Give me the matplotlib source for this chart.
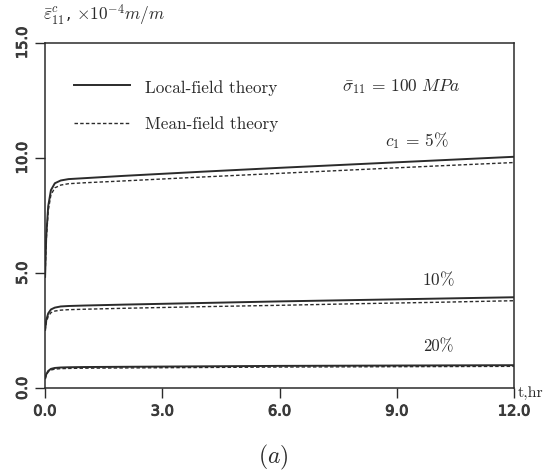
import numpy as np
import matplotlib
matplotlib.use("Agg")
import matplotlib.pyplot as plt
import matplotlib.patheffects as pe

plt.rcParams['mathtext.fontset'] = 'cm'
plt.rcParams['axes.unicode_minus'] = False

# creep strain (x 1e-4 m/m) vs time (hr), three fibre volume fractions
t_hr = [0, 0.03, 0.08, 0.15, 0.25, 0.4, 0.6, 1, 2, 4, 6, 8, 10, 12]

local_5 = [4.8, 6.6, 7.9, 8.6, 8.9, 9.02, 9.08, 9.12, 9.22, 9.4, 9.57, 9.73, 9.89, 10.05]
mean_5 = [4.8, 6.4, 7.7, 8.4, 8.7, 8.82, 8.88, 8.92, 9.0, 9.17, 9.33, 9.49, 9.65, 9.8]

local_10 = [2.5, 2.95, 3.25, 3.42, 3.5, 3.55, 3.57, 3.59, 3.63, 3.7, 3.77, 3.83, 3.89, 3.95]
mean_10 = [2.5, 2.85, 3.12, 3.28, 3.35, 3.39, 3.41, 3.43, 3.47, 3.54, 3.6, 3.67, 3.73, 3.8]

local_20 = [0.4, 0.6, 0.75, 0.84, 0.88, 0.9, 0.91, 0.92, 0.93, 0.95, 0.97, 0.98, 0.99, 1.0]
mean_20 = [0.4, 0.57, 0.71, 0.79, 0.83, 0.85, 0.86, 0.87, 0.88, 0.9, 0.92, 0.93, 0.94, 0.95]

x_ticks = [0, 3, 6, 9, 12]
y_ticks = [0, 5, 10, 15]

ink = '#2b2b2b'
serif = ['cmr10', 'DejaVu Serif']
dash = (0, (2.5, 1.6))

fig = plt.figure(figsize=(5.43, 4.70), dpi=100)
ax = fig.add_axes([0.083, 0.174, 0.864, 0.735])

for loc, mf in [(local_5, mean_5), (local_10, mean_10), (local_20, mean_20)]:
    ax.plot(t_hr, loc, color=ink, lw=1.4, solid_capstyle='butt')
    ax.plot(t_hr, mf, color=ink, lw=1.0, linestyle=dash)

ax.set_xlim(0, 12)
ax.set_ylim(0, 15)
ax.set_xticks(x_ticks)
ax.set_xticklabels(['%.1f' % v for v in x_ticks])
ax.set_yticks(y_ticks)
ax.set_yticklabels(['%.1f' % v for v in y_ticks], rotation=90, va='center')
ax.tick_params(direction='out', length=7, width=1.0, color=ink,
               labelsize=10.5, labelcolor='#3a3a3a', pad=4)
# slightly heavier strokes on tick labels
thick = [pe.withStroke(linewidth=0.7, foreground='#3a3a3a')]
for lab in ax.get_xticklabels() + ax.get_yticklabels():
    lab.set_path_effects(thick)
for s in ax.spines.values():
    s.set_color(ink)
    s.set_linewidth(1.1)

# hand-drawn legend
ax.plot([0.75, 2.16], [13.15, 13.15], color=ink, lw=1.4)
ax.plot([0.75, 2.16], [11.5, 11.5], color=ink, lw=1.0, linestyle=dash)
ax.text(2.56, 13.05, 'Local-field theory', family=serif, fontsize=12.4,
        color=ink, va='center')
ax.text(2.56, 11.45, 'Mean-field theory', family=serif, fontsize=12.4,
        color=ink, va='center')
ax.text(7.6, 13.1, r'$\bar{\sigma}_{11}\,=\,100\ MPa$', fontsize=12.5,
        color=ink, va='center')

# volume fraction labels
ax.text(9.5, 10.75, r'$c_1\,=\,5\%$', fontsize=12.5, color=ink,
        ha='center', va='center')
ax.text(10.05, 4.7, r'$\mathit{10\%}$', fontsize=12.5, color=ink,
        ha='center', va='center')
ax.text(10.05, 1.8, '20%', family=serif, fontsize=12, color=ink,
        ha='center', va='center')

ax.text(12.1, -0.2, 't,hr', family=serif, fontsize=11.5, color=ink,
        ha='left', va='center', clip_on=False)
fig.text(43 / 543, 1 - 15 / 470,
         r'$\bar{\varepsilon}^{c}_{11}$, $\times 10^{-4} m/m$',
         fontsize=12.5, color=ink, ha='left', va='center')
fig.text(273 / 543, 1 - 457 / 470, r'$(a)$', fontsize=17, color=ink,
         ha='center', va='center')

fig.savefig('out.png', dpi=100)
